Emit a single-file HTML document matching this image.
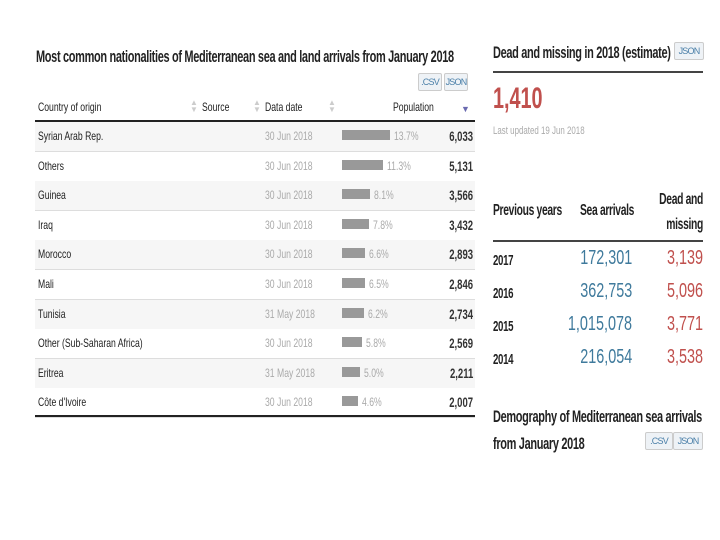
<!DOCTYPE html>
<html><head><meta charset="utf-8"><style>
body{margin:0;width:720px;height:540px;background:#fff;position:relative;overflow:hidden;font-family:"Liberation Sans",sans-serif;color:#222}
.a{position:absolute;white-space:nowrap}
.t{font-size:17px;font-weight:bold;letter-spacing:-0.5px;transform:scaleX(0.645);transform-origin:left}
.btn{position:absolute;height:16px;width:22px;overflow:hidden;border:1px solid #ccc;background:#eef2f6;color:#4a7fa8;font-size:9px;line-height:16px;text-align:center;border-radius:2px;letter-spacing:-0.8px}
.hdr{font-size:12px;transform:scaleX(0.72);transform-origin:left}
.row{position:absolute;left:35px;width:440px;height:29px;border-bottom:1px solid #ddd}
.cell{font-size:12px;transform:scaleX(0.72);transform-origin:left;position:absolute;top:7px}
.gray{color:#aaa}
</style></head><body>
<div class="a t" style="left:36px;top:47px">Most common nationalities of Mediterranean sea and land arrivals from January 2018</div>
<div class="btn" style="left:418px;top:73px">.CSV</div>
<div class="btn" style="left:444px;top:73px">JSON</div>
<div class="a hdr" style="left:38px;top:100px">Country of origin</div>
<div class="a gray" style="left:190px;top:99px;font-size:8px;line-height:7px;color:#ccc">▲<br>▼</div>
<div class="a hdr" style="left:202px;top:100px">Source</div>
<div class="a gray" style="left:253px;top:99px;font-size:8px;line-height:7px;color:#ccc">▲<br>▼</div>
<div class="a hdr" style="left:265px;top:100px">Data date</div>
<div class="a gray" style="left:328px;top:99px;font-size:8px;line-height:7px;color:#ccc">▲<br>▼</div>
<div class="a hdr" style="left:393px;top:100px">Population</div>
<div class="a" style="left:461px;top:104px;font-size:9px;color:#6a6ab0">▼</div>
<div class="a" style="left:35px;top:120px;width:440px;height:2px;background:#222"></div>
<div id="rows"></div>
<div class="a" style="left:35px;top:415px;width:440px;height:2px;background:#222"></div>

<div class="a t" style="left:493px;top:43px">Dead and missing in 2018 (estimate)</div>
<div class="btn" style="left:674px;top:42px;width:28px">JSON</div>
<div class="a" style="left:493px;top:71px;width:210px;height:2px;background:#444"></div>
<div class="a" style="left:493px;top:82px;font-size:30px;font-weight:bold;color:#c0504d;transform:scaleX(0.66);transform-origin:left">1,410</div>
<div class="a gray" style="left:493px;top:125px;font-size:11px;transform:scaleX(0.72);transform-origin:left">Last updated 19 Jun 2018</div>
<div class="a t" style="left:493px;top:202px;font-size:16px">Previous years</div>
<div class="a t" style="left:580px;top:202px;font-size:16px">Sea arrivals</div>
<div class="a t" style="right:17px;top:187px;font-size:16px;text-align:right;line-height:25px;transform-origin:right">Dead and<br>missing</div>
<div class="a" style="left:493px;top:240px;width:210px;height:2px;background:#444"></div>
<div id="prev"></div>
<div class="a t" style="left:493px;top:403px;line-height:27px">Demography of Mediterranean sea arrivals<br>from January 2018</div>
<div class="btn" style="left:645px;top:432px;width:26px">.CSV</div>
<div class="btn" style="left:673px;top:432px;width:28px">JSON</div>
<script>
const countries=["Syrian Arab Rep.","Others","Guinea","Iraq","Morocco","Mali","Tunisia","Other (Sub-Saharan Africa)","Eritrea","Côte d'Ivoire"];
const dates=["30 Jun 2018","30 Jun 2018","30 Jun 2018","30 Jun 2018","30 Jun 2018","30 Jun 2018","31 May 2018","30 Jun 2018","31 May 2018","30 Jun 2018"];
const percents=["13.7%","11.3%","8.1%","7.8%","6.6%","6.5%","6.2%","5.8%","5.0%","4.6%"];
const populations=[6033,5131,3566,3432,2893,2846,2734,2569,2211,2007];
const years=["2017","2016","2015","2014"];
const seaArrivals=[172301,362753,1015078,216054];
const deadMissing=[3139,5096,3771,3538];
const maxPop=Math.max(...populations);
const barX=v=>v/maxPop*48;
const R=document.getElementById('rows');
countries.forEach((c,i)=>{
 const r=document.createElement('div');r.className='row';
 
 
 r.style.top=(122+i*29.6)+'px';
 r.style.background=i%2==0?'#f6f6f6':'#fff';
 r.innerHTML=`<div class="cell" style="left:3px">${c}</div><div class="cell gray" style="left:230px">${dates[i]}</div>`;
 const b=document.createElement('div');
 
 
 b.style.cssText=`position:absolute;left:307px;top:8px;height:10px;background:#999;width:${barX(populations[i])}px`;
 r.appendChild(b);
 const p=document.createElement('div');p.className='cell gray';p.textContent=percents[i];
 
 
 p.style.left=(311+barX(populations[i]))+'px';r.appendChild(p);
 const n=document.createElement('div');n.textContent=populations[i].toLocaleString('en-US');
 
 
 n.style.cssText='position:absolute;right:2px;top:6px;font-size:14px;font-weight:bold;color:#333;transform:scaleX(0.68);transform-origin:right';
 r.appendChild(n);R.appendChild(r);
});
const P=document.getElementById('prev');
years.forEach((y,i)=>{
 const top=252+i*33;
 const a=document.createElement('div');a.className='a t';a.style.cssText=`left:493px;top:${top}px;font-size:15px`;a.textContent=y;
 
 P.appendChild(a);
 const s=document.createElement('div');s.className='a';s.style.cssText=`right:${720-632}px;top:${top-5}px;font-size:20px;color:#3f7a9c;transform:scaleX(0.72);transform-origin:right`;s.textContent=seaArrivals[i].toLocaleString('en-US');
 
 P.appendChild(s);
 const d=document.createElement('div');d.className='a';d.style.cssText=`right:${720-703}px;top:${top-5}px;font-size:20px;color:#c0504d;transform:scaleX(0.72);transform-origin:right`;d.textContent=deadMissing[i].toLocaleString('en-US');
 
 P.appendChild(d);
});
</script>
</body></html>
